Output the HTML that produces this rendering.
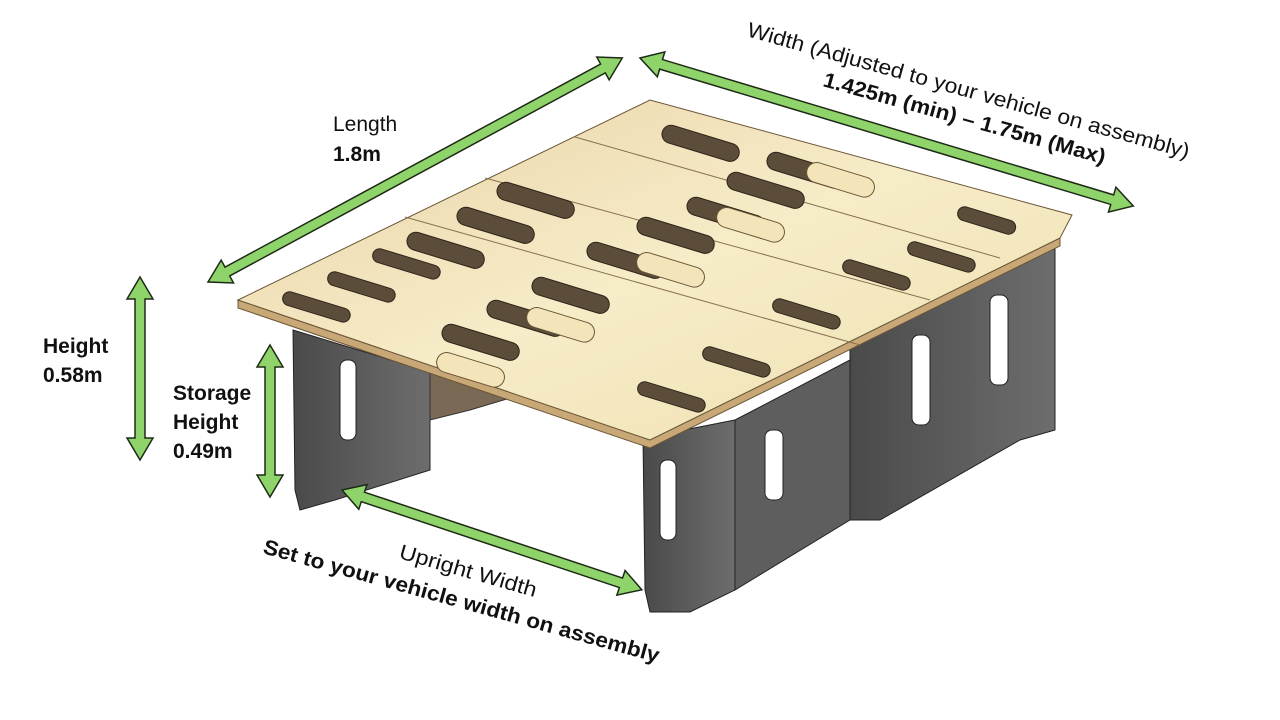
<!DOCTYPE html>
<html><head><meta charset="utf-8"><style>
html,body{margin:0;padding:0;background:#fff;width:1280px;height:720px;overflow:hidden}
svg{display:block}
text{font-family:"Liberation Sans","DejaVu Sans",sans-serif;fill:#111}
</style></head><body>
<svg width="1280" height="720" viewBox="0 0 1280 720" xmlns="http://www.w3.org/2000/svg">
<defs>
<linearGradient id="ply" x1="0" y1="0" x2="1" y2="1">
<stop offset="0" stop-color="#e9d2a6"/><stop offset="0.5" stop-color="#f6ecc8"/><stop offset="1" stop-color="#efe0b0"/>
</linearGradient>
<linearGradient id="gr" x1="0" y1="0" x2="1" y2="0">
<stop offset="0" stop-color="#4a4a4a"/><stop offset="1" stop-color="#6d6d6d"/>
</linearGradient>
</defs>

<polygon points="293,330 430,372 430,470 335,500 300,510 295,490" fill="url(#gr)" stroke="#222"/>
<polygon points="643,438 735,420 735,590 690,612 650,612 645,590" fill="url(#gr)" stroke="#222"/>
<polygon points="735,420 850,360 850,520 735,590" fill="#5e5e5e" stroke="#222"/>
<polygon points="850,345 1055,240 1055,430 1020,440 880,520 850,520" fill="url(#gr)" stroke="#222"/>
<polygon points="430,372 520,330 520,395 470,410 430,420" fill="#7a6a55" stroke="#333"/>
<rect x="340" y="360" width="16" height="80" rx="7" fill="#fff" stroke="#222"/>
<rect x="660" y="460" width="16" height="80" rx="7" fill="#fff" stroke="#222"/>
<rect x="765" y="430" width="18" height="70" rx="7" fill="#fff" stroke="#222"/>
<rect x="912" y="335" width="18" height="90" rx="7" fill="#fff" stroke="#222"/>
<rect x="990" y="295" width="18" height="90" rx="7" fill="#fff" stroke="#222"/>

<polygon points="238,300 650,440 1060,238 1060,246 650,448 238,308" fill="#c9a878" stroke="#6a5535"/>
<polygon points="238,300 650,100 1072,215 1060,238 650,440" fill="url(#ply)" stroke="#6a5535"/>
<polyline points="405,217 860,345" fill="none" stroke="#8a7050"/>
<polyline points="485,178 930,300" fill="none" stroke="#8a7050"/>
<polyline points="575,137 1000,258" fill="none" stroke="#8a7050"/>

<g fill="#5c4c3a" stroke="#2e2418" stroke-width="1">
<rect x="0" y="0" width="70" height="14" rx="7" transform="translate(285,290) rotate(17)"/>
<rect x="0" y="0" width="70" height="14" rx="7" transform="translate(330,270) rotate(17)"/>
<rect x="0" y="0" width="70" height="14" rx="7" transform="translate(375,247) rotate(17)"/>
<rect x="0" y="0" width="80" height="18" rx="9" transform="translate(445,322) rotate(17)"/>
<rect x="0" y="0" width="80" height="18" rx="9" transform="translate(490,298) rotate(17)"/>
<rect x="0" y="0" width="80" height="18" rx="9" transform="translate(535,275) rotate(17)"/>
<rect x="0" y="0" width="80" height="18" rx="9" transform="translate(410,230) rotate(17)"/>
<rect x="0" y="0" width="80" height="18" rx="9" transform="translate(460,205) rotate(17)"/>
<rect x="0" y="0" width="80" height="18" rx="9" transform="translate(500,180) rotate(17)"/>
<rect x="0" y="0" width="80" height="18" rx="9" transform="translate(590,240) rotate(17)"/>
<rect x="0" y="0" width="80" height="18" rx="9" transform="translate(640,215) rotate(17)"/>
<rect x="0" y="0" width="80" height="18" rx="9" transform="translate(690,195) rotate(17)"/>
<rect x="0" y="0" width="80" height="18" rx="9" transform="translate(730,170) rotate(17)"/>
<rect x="0" y="0" width="80" height="18" rx="9" transform="translate(770,150) rotate(17)"/>
<rect x="0" y="0" width="80" height="18" rx="9" transform="translate(665,123) rotate(17)"/>
<rect x="0" y="0" width="70" height="14" rx="7" transform="translate(640,380) rotate(17)"/>
<rect x="0" y="0" width="70" height="14" rx="7" transform="translate(705,345) rotate(17)"/>
<rect x="0" y="0" width="70" height="14" rx="7" transform="translate(775,297) rotate(17)"/>
<rect x="0" y="0" width="70" height="14" rx="7" transform="translate(845,258) rotate(17)"/>
<rect x="0" y="0" width="70" height="14" rx="7" transform="translate(910,240) rotate(17)"/>
<rect x="0" y="0" width="60" height="14" rx="7" transform="translate(960,205) rotate(17)"/>
</g>
<g fill="#f3e4ba" stroke="#6a5535">
<rect x="0" y="0" width="70" height="20" rx="10" transform="translate(440,350) rotate(17)"/>
<rect x="0" y="0" width="70" height="20" rx="10" transform="translate(530,305) rotate(17)"/>
<rect x="0" y="0" width="70" height="20" rx="10" transform="translate(640,250) rotate(17)"/>
<rect x="0" y="0" width="70" height="20" rx="10" transform="translate(720,205) rotate(17)"/>
<rect x="0" y="0" width="70" height="20" rx="10" transform="translate(810,160) rotate(17)"/>
</g>

<g fill="#8fd46a" stroke="#1e2a16" stroke-width="1.5">
<g transform="translate(208,282) rotate(-28.4)"><polygon points="0,0 22,-13 22,-5 449,-5 449,-13 471,0 449,13 449,5 22,5 22,13"/></g>
<g transform="translate(640,58) rotate(16.7)"><polygon points="0,0 22,-13 22,-5 493,-5 493,-13 515,0 493,13 493,5 22,5 22,13"/></g>
<g transform="translate(342,490) rotate(18.4)"><polygon points="0,0 22,-13 22,-5 294,-5 294,-13 316,0 294,13 294,5 22,5 22,13"/></g>
<g transform="translate(140,277) rotate(90)"><polygon points="0,0 22,-13 22,-5 161,-5 161,-13 183,0 161,13 161,5 22,5 22,13"/></g>
<g transform="translate(270,345) rotate(90)"><polygon points="0,0 22,-13 22,-5 130,-5 130,-13 152,0 130,13 130,5 22,5 22,13"/></g>
</g>

<text x="333" y="131" font-size="21">Length</text>
<text x="333" y="161" font-size="21" font-weight="bold">1.8m</text>
<text x="43" y="353" font-size="21" font-weight="bold">Height</text>
<text x="43" y="382" font-size="21" font-weight="bold">0.58m</text>
<text x="173" y="400" font-size="21" font-weight="bold">Storage</text>
<text x="173" y="429" font-size="21" font-weight="bold">Height</text>
<text x="173" y="458" font-size="21" font-weight="bold">0.49m</text>
<text transform="translate(746,36) rotate(15.5)" font-size="21" textLength="458" lengthAdjust="spacingAndGlyphs">Width (Adjusted to your vehicle on assembly)</text>
<text transform="translate(822,86) rotate(15.5)" font-size="21" font-weight="bold" textLength="292" lengthAdjust="spacingAndGlyphs">1.425m (min) – 1.75m (Max)</text>
<text transform="translate(398,558) rotate(16)" font-size="21" textLength="142" lengthAdjust="spacingAndGlyphs">Upright Width</text>
<text transform="translate(262,553) rotate(15.5)" font-size="21" font-weight="bold" textLength="410" lengthAdjust="spacingAndGlyphs">Set to your vehicle width on assembly</text>
</svg>
</body></html>
